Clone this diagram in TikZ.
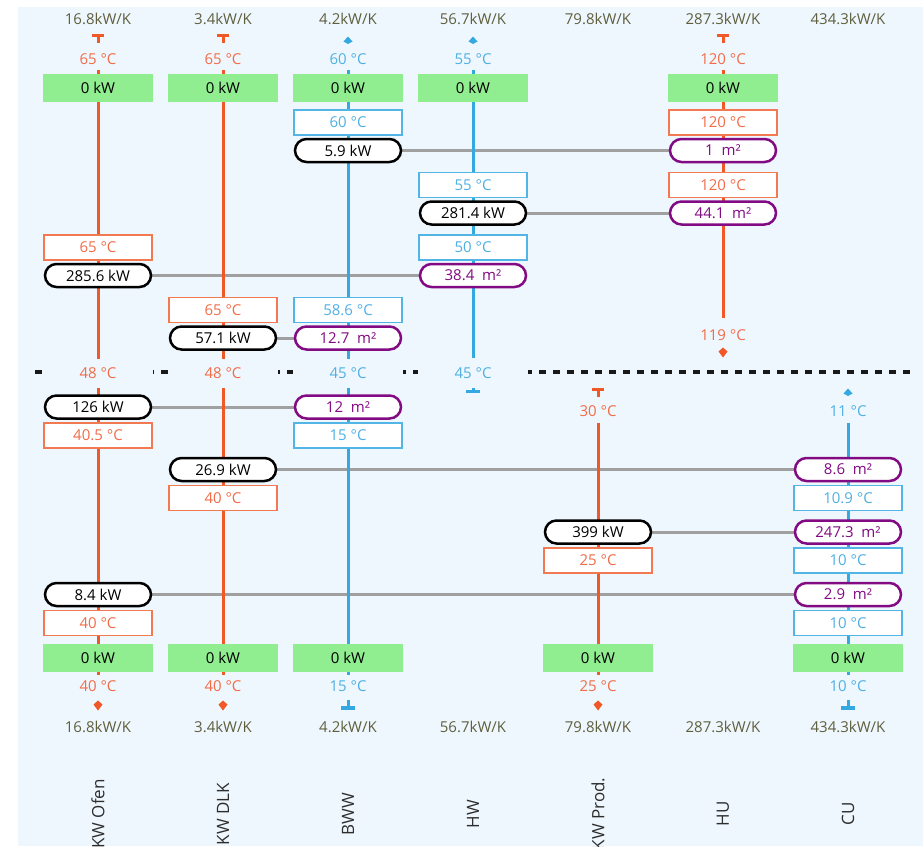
\documentclass[tikz,border=0pt]{standalone}
\usepackage{fontspec}
\setmainfont{Open Sans}
\usepackage{tikz}
\usetikzlibrary{backgrounds}

\definecolor{hotline}{RGB}{240,88,40}
\definecolor{hottext}{RGB}{242,108,72}
\definecolor{coldline}{RGB}{52,168,224}
\definecolor{coldtext}{RGB}{78,176,228}
\definecolor{flowtext}{RGB}{95,95,62}
\definecolor{areatext}{RGB}{130,10,130}
\definecolor{linkgray}{RGB}{160,160,160}
\definecolor{paneblue}{RGB}{239,247,254}
\definecolor{zerogreen}{RGB}{144,238,144}
\definecolor{nametext}{RGB}{45,45,45}

\def\hotcap(#1,#2){\fill[hotline] (#1-6,#2-4) rectangle (#1+6,#2-1); \fill[hotline] (#1-1.5,#2-1) rectangle (#1+1.5,#2+5);}
\def\hottip(#1,#2){\fill[hotline] (#1,#2+5.5) -- (#1-4.5,#2-0.5) -- (#1,#2-4.5) -- (#1+4.5,#2-0.5) -- cycle;}
\def\coldtip(#1,#2){\fill[coldline] (#1,#2-3.5) -- (#1-4.5,#2+1.5) -- (#1,#2+4) -- (#1+4.5,#2+1.5) -- cycle;}
\def\coldfoot(#1,#2){\fill[coldline] (#1-1.5,#2-5) rectangle (#1+1.5,#2+1); \fill[coldline] (#1-7,#2+1) rectangle (#1+7,#2+4.5);}

\tikzset{
	tempbox/.style={draw, fill=white, line width=1.2pt, minimum width=108pt, minimum height=25pt, inner sep=0pt},
	hotbox/.style={tempbox, draw=hotline!80, text=hottext},
	coldbox/.style={tempbox, draw=coldline!85, text=coldtext},
	duty/.style={draw=black, fill=white, line width=2.5pt, rounded corners=11.5pt, minimum width=106pt, minimum height=23pt, inner sep=0pt},
	area/.style={duty, draw=areatext, text=areatext},
	zero/.style={fill=zerogreen, minimum width=110pt, minimum height=28pt, inner sep=0pt},
	hottemp/.style={text=hottext, inner xsep=2pt, inner ysep=5.5pt},
	coldtemp/.style={text=coldtext, inner xsep=2pt, inner ysep=5.5pt},
	pinch/.style={fill=paneblue, minimum width=110pt, minimum height=29pt, inner sep=0pt},
	flow/.style={text=flowtext},
	streamname/.style={rotate=90, text=nametext, font=\fontsize{17}{20}\selectfont},
	hotstream/.style={draw=hotline, line width=3pt},
	coldstream/.style={draw=coldline, line width=3pt},
	link/.style={draw=linkgray, line width=3pt},
	pinchline/.style={draw=black!90, line width=3.5pt, dash pattern=on 7pt off 7pt}
}

\begin{document}
\begin{tikzpicture}[x=1pt, y=-1pt, font=\fontsize{15}{18}\selectfont]
			%%%%% START %%%%%
			\useasboundingbox (0,0) rectangle (923,846);
			
			\node[flow] (ofenFlowT) at (98,19) {16.8kW/K};
			\node[flow] (dlkFlowT) at (223,19) {3.4kW/K};
			\node[flow] (bwwFlowT) at (348,19) {4.2kW/K};
			\node[flow] (hwFlowT) at (473,19) {56.7kW/K};
			\node[flow] (prodFlowT) at (598,19) {79.8kW/K};
			\node[flow] (huFlowT) at (723,19) {287.3kW/K};
			\node[flow] (cuFlowT) at (848,19) {434.3kW/K};
			
			\node[hottemp] (ofenIn) at (98,59) {65 °C};
			\node[hottemp] (dlkIn) at (223,59) {65 °C};
			\node[coldtemp] (bwwOut) at (348,59) {60 °C};
			\node[coldtemp] (hwOut) at (473,59) {55 °C};
			\node[hottemp] (huIn) at (723,59) {120 °C};
			
			\node[zero] (ofenZ1) at (98,87.5) {0 kW};
			\node[zero] (dlkZ1) at (223,87.5) {0 kW};
			\node[zero] (bwwZ1) at (348,87.5) {0 kW};
			\node[zero] (hwZ1) at (473,87.5) {0 kW};
			\node[zero] (huZ1) at (723,87.5) {0 kW};
			
			\node[coldbox] (bwwT1) at (348,122.5) {60 °C};
			\node[duty] (bwwQ1) at (348,150.5) {5.9 kW};
			\node[hotbox] (huT1) at (723,122.5) {120 °C};
			\node[area] (huA1) at (723,150.5) {1~~m²};
			
			\node[coldbox] (hwT1) at (473,185) {55 °C};
			\node[duty] (hwQ1) at (473,213) {281.4 kW};
			\node[hotbox] (huT2) at (723,185) {120 °C};
			\node[area] (huA2) at (723,213) {44.1~~m²};
			
			\node[hotbox] (ofenT1) at (98,247.5) {65 °C};
			\node[duty] (ofenQ1) at (98,275.5) {285.6 kW};
			\node[coldbox] (hwT2) at (473,247.5) {50 °C};
			\node[area] (hwA1) at (473,275.5) {38.4~~m²};
			
			\node[hotbox] (dlkT1) at (223,310) {65 °C};
			\node[duty] (dlkQ1) at (223,338) {57.1 kW};
			\node[coldbox] (bwwT2) at (348,310) {58.6 °C};
			\node[area] (bwwA1) at (348,338) {12.7~~m²};
			
			\node[hottemp] (huOut) at (723,335) {119 °C};
			
			\node[pinch, text=hottext] (ofenP) at (98,373) {48 °C};
			\node[pinch, text=hottext] (dlkP) at (223,373) {48 °C};
			\node[pinch, text=coldtext] (bwwP) at (348,373) {45 °C};
			\node[pinch, text=coldtext] (hwIn) at (473,373) {45 °C};
			
			\node[hottemp] (prodIn) at (598,411.5) {30 °C};
			\node[coldtemp] (cuOut) at (848,411.5) {11 °C};
			
			\node[duty] (ofenQ2) at (98,407) {126 kW};
			\node[hotbox] (ofenT2) at (98,435.5) {40.5 °C};
			\node[area] (bwwA2) at (348,407) {12~~m²};
			\node[coldbox] (bwwT3) at (348,435.5) {15 °C};
			
			\node[duty] (dlkQ2) at (223,469.5) {26.9 kW};
			\node[hotbox] (dlkT2) at (223,498) {40 °C};
			\node[area] (cuA1) at (848,469.5) {8.6~~m²};
			\node[coldbox] (cuT1) at (848,498) {10.9 °C};
			
			\node[duty] (prodQ1) at (598,532) {399 kW};
			\node[hotbox] (prodT1) at (598,560.5) {25 °C};
			\node[area] (cuA2) at (848,532) {247.3~~m²};
			\node[coldbox] (cuT2) at (848,560.5) {10 °C};
			
			\node[duty] (ofenQ3) at (98,594.5) {8.4 kW};
			\node[hotbox] (ofenT3) at (98,623) {40 °C};
			\node[area] (cuA3) at (848,594.5) {2.9~~m²};
			\node[coldbox] (cuT3) at (848,623) {10 °C};
			
			\node[zero] (ofenZ2) at (98,657.5) {0 kW};
			\node[zero] (dlkZ2) at (223,657.5) {0 kW};
			\node[zero] (bwwZ2) at (348,657.5) {0 kW};
			\node[zero] (prodZ2) at (598,657.5) {0 kW};
			\node[zero] (cuZ2) at (848,657.5) {0 kW};
			
			\node[hottemp] (ofenOut) at (98,686) {40 °C};
			\node[hottemp] (dlkOut) at (223,686) {40 °C};
			\node[coldtemp] (bwwIn) at (348,686) {15 °C};
			\node[hottemp] (prodOut) at (598,686) {25 °C};
			\node[coldtemp] (cuIn) at (848,686) {10 °C};
			
			\node[flow] (ofenFlowB) at (98,727) {16.8kW/K};
			\node[flow] (dlkFlowB) at (223,727) {3.4kW/K};
			\node[flow] (bwwFlowB) at (348,727) {4.2kW/K};
			\node[flow] (hwFlowB) at (473,727) {56.7kW/K};
			\node[flow] (prodFlowB) at (598,727) {79.8kW/K};
			\node[flow] (huFlowB) at (723,727) {287.3kW/K};
			\node[flow] (cuFlowB) at (848,727) {434.3kW/K};
			
			\node[streamname] (ofenName) at (98,814) {KW Ofen};
			\node[streamname] (dlkName) at (223,814) {KW DLK};
			\node[streamname] (bwwName) at (348,814) {BWW};
			\node[streamname] (hwName) at (473,814) {HW};
			\node[streamname] (prodName) at (598,814) {KW Prod.};
			\node[streamname] (huName) at (723,814) {HU};
			\node[streamname] (cuName) at (848,814) {CU};
			
			\begin{scope}[on background layer]
			\fill[paneblue] (18,7) rectangle (923,846);
			\draw[pinchline] (35,372) -- (914,372);
			
			\draw[link] (bwwQ1) -- (huA1);
			\draw[link] (hwQ1) -- (huA2);
			\draw[link] (ofenQ1) -- (hwA1);
			\draw[link] (dlkQ1) -- (bwwA1);
			\draw[link] (ofenQ2) -- (bwwA2);
			\draw[link] (dlkQ2) -- (cuA1);
			\draw[link] (prodQ1) -- (cuA2);
			\draw[link] (ofenQ3) -- (cuA3);
			
			\draw[hotstream] (ofenIn) -- (ofenOut);
			\draw[hotstream] (dlkIn) -- (dlkOut);
			\draw[coldstream] (bwwIn) -- (bwwOut);
			\draw[coldstream] (hwIn) -- (hwOut);
			\draw[hotstream] (prodIn) -- (prodOut);
			\draw[hotstream, shorten >=6pt] (huIn) -- (huOut);
			\draw[coldstream] (cuIn) -- (cuOut);
			
			\hotcap(98,38) \hotcap(223,38) \coldtip(348,40) \coldtip(473,40) \hotcap(723,38)
			\hottip(723,352)
			\coldfoot(473,388.6)
			\hotcap(598,392) \coldtip(848,392)
			\hottip(98,705) \hottip(223,705) \coldfoot(348,705) \hottip(598,705) \coldfoot(848,705)
			\end{scope}
			
			%%%%% END %%%%%
\end{tikzpicture}
\end{document}
